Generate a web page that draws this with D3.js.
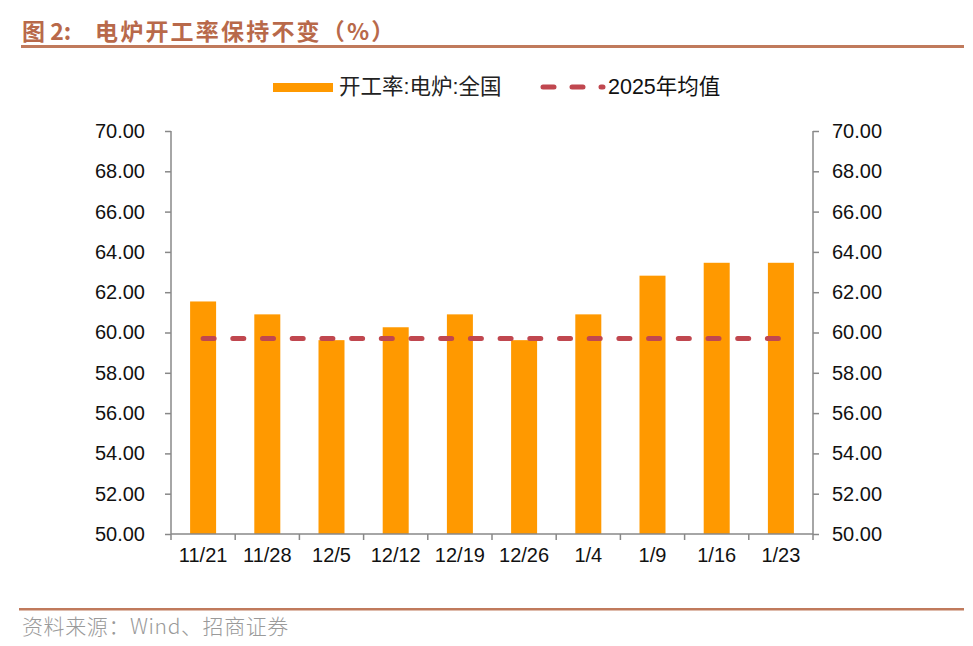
<!DOCTYPE html>
<html>
<head>
<meta charset="utf-8">
<script src="https://d3js.org/d3.v7.min.js"></script>
<style>
  body { margin: 0; background: #fff; }
  svg text { font-family: "Liberation Sans", Arial, "Noto Sans CJK SC", sans-serif; }
</style>
</head>
<body>
<script>
// data
var dates = ["11/21", "11/28", "12/5", "12/12", "12/19", "12/26", "1/4", "1/9", "1/16", "1/23"];
var rate = [61.54, 60.90, 59.62, 60.26, 60.90, 59.62, 60.90, 62.82, 63.46, 63.46];
var avg2025 = 59.70;
var yTicks = [50, 52, 54, 56, 58, 60, 62, 64, 66, 68, 70];

var W = 973, H = 646;
var plotL = 171, plotR = 813, plotT = 131, plotB = 534;

var svg = d3.select("body").append("svg")
    .attr("width", W)
    .attr("height", H);

// title
var title = svg.append("text")
    .attr("x", 22).attr("y", 40)
    .attr("font-size", 23).attr("font-weight", "bold")
    .attr("fill", "#b8694a")
    .style("font-family", "'Noto Sans CJK SC', sans-serif");
title.append("tspan").text("图 2:");
title.append("tspan").attr("x", 95).attr("letter-spacing", 2.2).text("电炉开工率保持不变（%）");
svg.append("rect")
    .attr("x", 21).attr("y", 45).attr("width", 943).attr("height", 3)
    .attr("fill", "#c07a5c");

// footer
svg.append("rect")
    .attr("x", 19).attr("y", 608).attr("width", 945).attr("height", 2.5)
    .attr("fill", "#c07a5c");
svg.append("text")
    .attr("x", 22).attr("y", 634)
    .attr("font-size", 21)
    .attr("letter-spacing", 0.6)
    .attr("fill", "#9a9a9a")
    .style("font-family", "'Noto Sans CJK SC', sans-serif")
    .style("font-weight", 300)
    .text("资料来源：Wind、招商证券");

// scales
var xc = d3.scaleBand().domain(dates).range([plotL, plotR]);

var y = d3.scaleLinear()
    .domain([50, 70])
    .range([plotB, plotT]);

// bars
svg.selectAll(".bar")
    .data(rate)
    .enter()
    .append("rect")
    .attr("class", "bar")
    .attr("x", function(d, i) { return xc(dates[i]) + xc.bandwidth() / 2 - 13; })
    .attr("width", 26)
    .attr("y", function(d) { return y(d); })
    .attr("height", function(d) { return y(50) - y(d); })
    .attr("fill", "#ff9900");

// average line (dashed)
var line = d3.line()
    .x(function(d) { return xc(d) + xc.bandwidth() / 2; })
    .y(function() { return y(avg2025); });
svg.append("path")
    .datum(dates)
    .attr("d", line)
    .attr("fill", "none")
    .attr("stroke", "#c0474f")
    .attr("stroke-width", 5)
    .attr("stroke-linecap", "round")
    .attr("stroke-dasharray", "11,18.7");

// left axis
var yl = svg.append("g")
    .attr("transform", "translate(" + plotL + ",0)")
    .call(d3.axisLeft(y).tickValues(yTicks).tickSize(6).tickPadding(20)
        .tickFormat(d3.format(".2f")));
// right axis
var yr = svg.append("g")
    .attr("transform", "translate(" + plotR + ",0)")
    .call(d3.axisRight(y).tickValues(yTicks).tickSize(6).tickPadding(13)
        .tickFormat(d3.format(".2f")));
// bottom axis, ticks sit between categories
var xa = svg.append("g")
    .attr("transform", "translate(0," + plotB + ")")
    .call(d3.axisBottom(xc).tickSize(0).tickPadding(14));
svg.append("g")
    .selectAll("line")
    .data([plotL].concat(dates.map(function(d) { return xc(d) + xc.bandwidth(); })))
    .enter()
    .append("line")
    .attr("x1", function(d) { return d; })
    .attr("x2", function(d) { return d; })
    .attr("y1", plotB).attr("y2", plotB + 6)
    .attr("stroke", "#888").attr("stroke-width", 1.5);

[yl, yr, xa].forEach(function(g) {
    g.select(".domain").attr("stroke", "#888").attr("stroke-width", 1.5);
    g.selectAll(".tick line").attr("stroke", "#888").attr("stroke-width", 1.5);
    g.selectAll("text").attr("font-size", 20).attr("fill", "#111")
        .style("font-family", "'Liberation Sans', Arial, sans-serif");
});
yl.select(".domain").attr("d", "M0," + plotT + "V" + plotB);
yr.select(".domain").attr("d", "M0," + plotT + "V" + plotB);
xa.select(".domain").attr("d", "M" + plotL + ",0H" + plotR);

// legend
svg.append("rect")
    .attr("x", 273).attr("y", 83).attr("width", 60).attr("height", 9)
    .attr("fill", "#ff9900");
svg.append("text")
    .attr("x", 339).attr("y", 94)
    .attr("font-size", 21.5).attr("fill", "#222")
    .text("开工率:电炉:全国");
svg.append("line")
    .attr("x1", 543).attr("x2", 603)
    .attr("y1", 87).attr("y2", 87)
    .attr("stroke", "#c0474f").attr("stroke-width", 5)
    .attr("stroke-linecap", "round")
    .attr("stroke-dasharray", "11,18");
svg.append("text")
    .attr("x", 608).attr("y", 94)
    .attr("font-size", 21.5).attr("fill", "#111")
    .text("2025年均值");
</script>
</body>
</html>
